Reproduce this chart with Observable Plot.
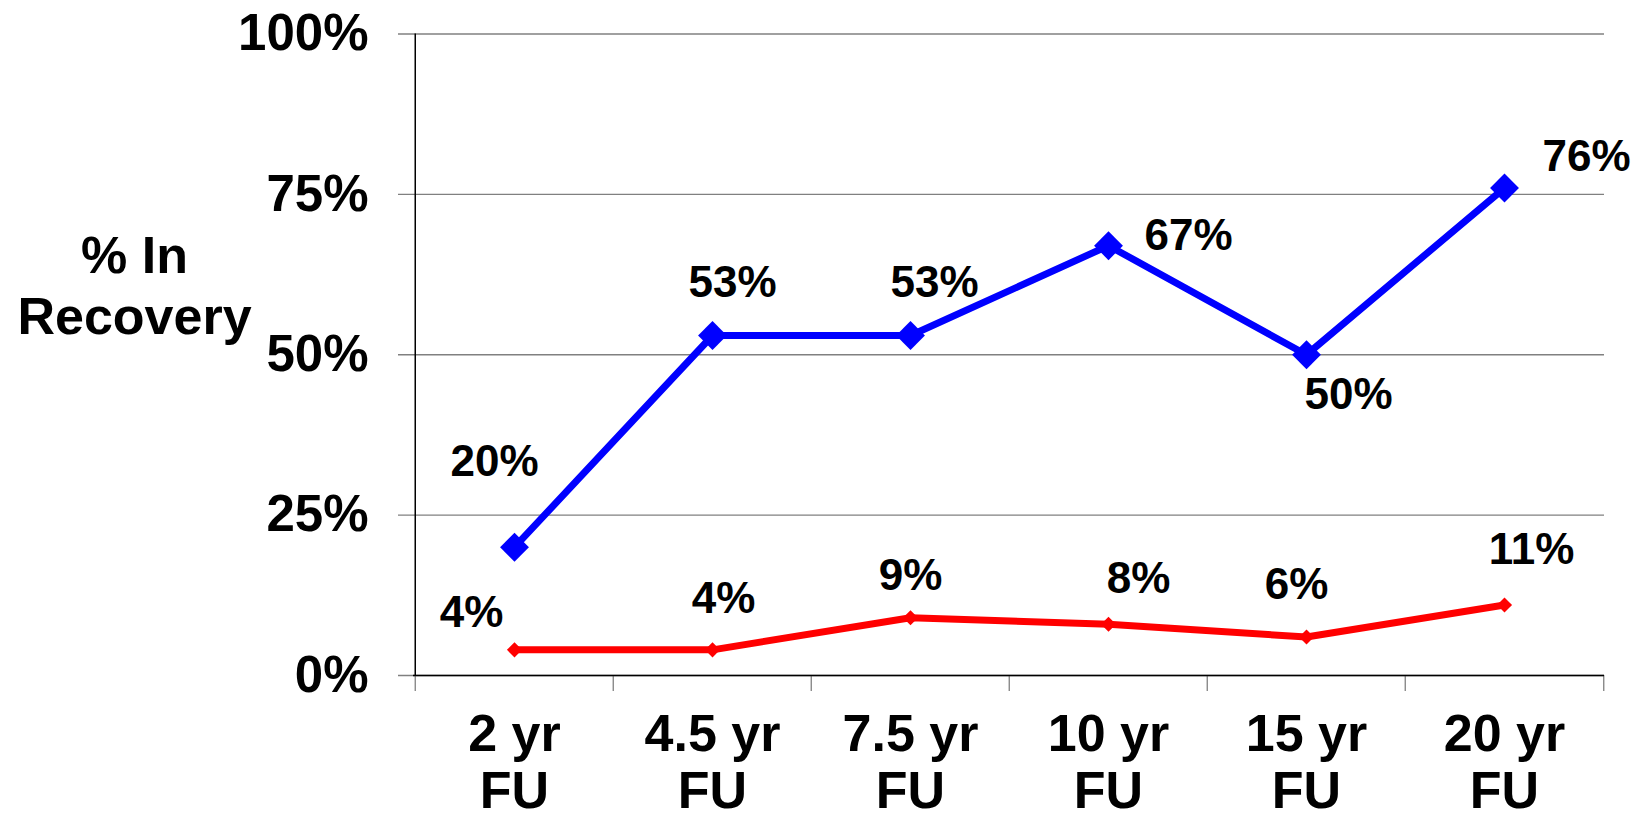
<!DOCTYPE html>
<html>
<head>
<meta charset="utf-8">
<script src="https://cdn.jsdelivr.net/npm/d3@7"></script>
<script src="https://cdn.jsdelivr.net/npm/@observablehq/plot@0.6"></script>
<style>
  html, body { margin: 0; padding: 0; background: #fff; }
  #chart svg { display: block; }
</style>
</head>
<body>
<div id="chart"></div>
<script>
// ---- data ----
const categories = ["2 yr FU", "4.5 yr FU", "7.5 yr FU", "10 yr FU", "15 yr FU", "20 yr FU"];
const categoryLabels = ["2 yr\nFU", "4.5 yr\nFU", "7.5 yr\nFU", "10 yr\nFU", "15 yr\nFU", "20 yr\nFU"];
const blueValues = [20, 53, 53, 67, 50, 76];
const redValues = [4, 4, 9, 8, 6, 11];
const yTicks = [0, 25, 50, 75, 100];
const yTitle = "% In\nRecovery";

// ---- label placement (pixel offsets from each point) ----
const blueLabelOffsets = [[-20, -85], [20, -53], [24, -53], [80, -10], [42, 40], [82, -31]];
const redLabelOffsets = [[-43, -37], [11, -51], [0, -42], [30, -45], [-10, -52], [27, -55]];

// ---- layout ----
const W = 1641, H = 818;
const mL = 413, mR = 37, mT = 33.5, mB = 143;
const step = (W - mL - mR) / categories.length;
const font = '"Liberation Sans", Arial, Helvetica, sans-serif';
const BLUE = "#0000ff", RED = "#ff0000", GRID = "#808080";

const blueRows = categories.map((c, i) => ({cat: c, value: blueValues[i]}));
const redRows = categories.map((c, i) => ({cat: c, value: redValues[i]}));

const labelMarks = (rows, offsets) => rows.map((r, i) =>
  Plot.text([r], {
    x: "cat", y: "value", text: d => d.value + "%",
    dx: offsets[i][0], dy: offsets[i][1],
    fontSize: 44, fontWeight: "bold", fill: "black"
  })
);

const chart = Plot.plot({
  width: W, height: H,
  marginLeft: mL, marginRight: mR, marginTop: mT, marginBottom: mB,
  style: {fontFamily: font, fontWeight: "bold", background: "white", color: "black"},
  x: {type: "point", domain: categories, padding: 0.5, align: 0.5, axis: null},
  y: {type: "linear", domain: [0, 100], axis: null},
  marks: [
    // gridlines (extend left as tick marks)
    Plot.ruleY(yTicks, {stroke: GRID, strokeWidth: 1.3, insetLeft: -15}),
    // x tick marks at category boundaries
    Plot.ruleX(categories, {x: d => d, y1: 0, y2: 0, insetTop: 16, dx: -step / 2, stroke: GRID, strokeWidth: 1.3}),
    Plot.ruleX([categories[categories.length - 1]], {x: d => d, y1: 0, y2: 0, insetTop: 16, dx: step / 2, stroke: GRID, strokeWidth: 1.3}),
    // axis lines
    Plot.ruleY([0], {stroke: "black", strokeWidth: 1.5}),
    Plot.ruleX([categories[0]], {x: d => d, dx: -step / 2, stroke: "black", strokeWidth: 1.5}),
    // y tick labels
    Plot.axisY({ticks: yTicks, tickFormat: d => d + "%", tickSize: 0, tickPadding: 45,
      fontSize: 51, fontWeight: "bold", label: null, anchor: "left"}),
    // x tick labels
    Plot.text(categories, {x: d => d, text: (d, i) => categoryLabels[i], frameAnchor: "bottom",
      lineAnchor: "top", lineHeight: 1.1, dy: 35, fontSize: 52, fontWeight: "bold", fill: "black"}),
    // y axis title
    Plot.text([yTitle], {frameAnchor: "top-left", dx: -279, dy: 196, lineAnchor: "top",
      lineHeight: 1.17, textAnchor: "middle", fontSize: 52, fontWeight: "bold", fill: "black"}),
    // series
    Plot.line(blueRows, {x: "cat", y: "value", stroke: BLUE, strokeWidth: 7}),
    Plot.dot(blueRows, {x: "cat", y: "value", symbol: "diamond2", r: 13, fill: BLUE, stroke: "none"}),
    Plot.line(redRows, {x: "cat", y: "value", stroke: RED, strokeWidth: 7}),
    Plot.dot(redRows, {x: "cat", y: "value", symbol: "diamond2", r: 6.8, fill: RED, stroke: "none"}),
    ...labelMarks(blueRows, blueLabelOffsets),
    ...labelMarks(redRows, redLabelOffsets)
  ]
});
document.getElementById("chart").appendChild(chart);
</script>
</body>
</html>
